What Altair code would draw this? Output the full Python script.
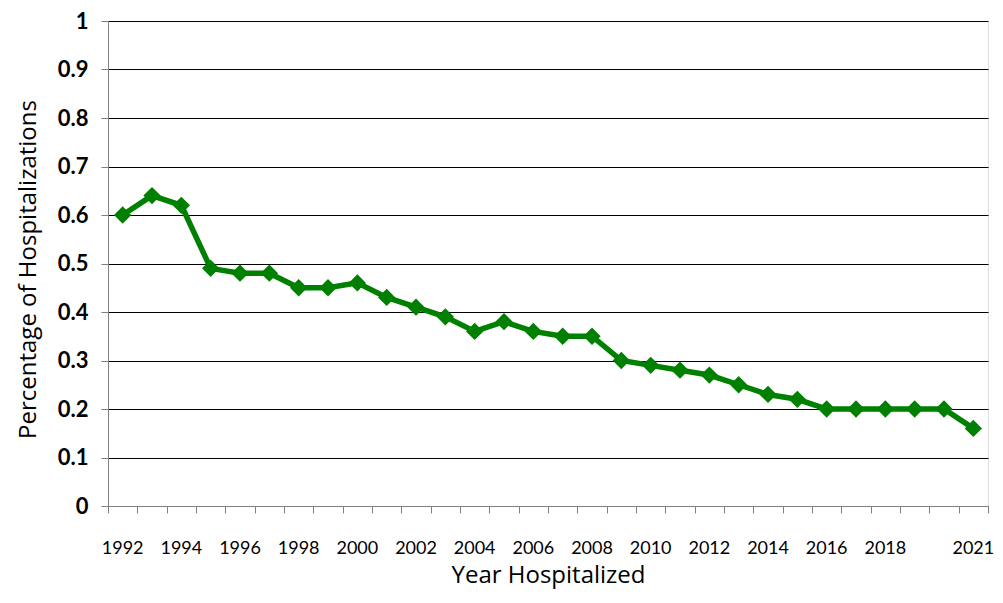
import altair as alt
import pandas as pd

years = list(range(1992, 2022))
values = [0.60, 0.64, 0.62, 0.49, 0.48, 0.48, 0.45, 0.45, 0.46, 0.43,
          0.41, 0.39, 0.36, 0.38, 0.36, 0.35, 0.35, 0.30, 0.29, 0.28,
          0.27, 0.25, 0.23, 0.22, 0.20, 0.20, 0.20, 0.20, 0.20, 0.16]
label_years = [1992, 1994, 1996, 1998, 2000, 2002, 2004, 2006, 2008,
               2010, 2012, 2014, 2016, 2018, 2021]
y_ticks = [0, 0.1, 0.2, 0.3, 0.4, 0.5, 0.6, 0.7, 0.8, 0.9, 1]

df = pd.DataFrame({"year": [str(y) for y in years], "value": values})

FONT = "Lato"
TFONT = "Open Sans"
GREEN = "#008000"

x_scale = alt.Scale(type="band", paddingInner=0, paddingOuter=0)

# axis carrying the tick marks at category boundaries
x_ticks_enc = alt.X(
    "year:O",
    scale=x_scale,
    axis=alt.Axis(
        orient="bottom", title=None, labels=False,
        tickBand="extent", tickSize=7, tickColor="#808080",
        domainColor="#808080", grid=False,
    ),
)

# axis carrying the labels and the title
x_labels_enc = alt.X(
    "year:O",
    scale=x_scale,
    axis=alt.Axis(
        orient="bottom",
        values=[str(y) for y in label_years],
        title="Year Hospitalized",
        titleFont=TFONT, titleFontSize=24, titleFontWeight="normal",
        titleColor="#000", titlePadding=6,
        labelFont=FONT, labelFontSize=18, labelColor="#000",
        labelAngle=0, labelPadding=33, labelOverlap=False,
        ticks=False, domain=False, grid=False,
    ),
)

y_enc = alt.Y(
    "value:Q",
    scale=alt.Scale(domain=[0, 1], nice=False),
    axis=alt.Axis(
        title="Percentage of Hospitalizations",
        titleFont=TFONT, titleFontSize=24, titleFontWeight="normal",
        titleColor="#000", titleX=-73, titleY=248, titleBaseline="alphabetic",
        values=y_ticks, format="~g",
        labelFont=FONT, labelFontSize=22, labelFontWeight="bold",
        labelColor="#000", labelPadding=13,
        tickSize=7, tickColor="#808080",
        domainColor="#808080",
        grid=True, gridColor="#000", gridWidth=1,
    ),
)

line = alt.Chart(df).mark_line(color=GREEN, strokeWidth=5.5).encode(
    x=x_ticks_enc, y=y_enc
)
pts = alt.Chart(df).mark_point(
    shape="diamond", filled=True, color=GREEN, size=300, opacity=1
).encode(x=x_labels_enc, y=alt.Y("value:Q"))

chart = (line + pts).resolve_axis(x="independent").properties(
    width=880, height=485,
    padding={"left": 100, "top": 13, "right": 7, "bottom": 85},
    autosize=alt.AutoSizeParams(type="none"),
).configure_view(stroke=None).configure(background="white")

chart.save("out.html", embed_options={"renderer": "svg", "actions": False})
